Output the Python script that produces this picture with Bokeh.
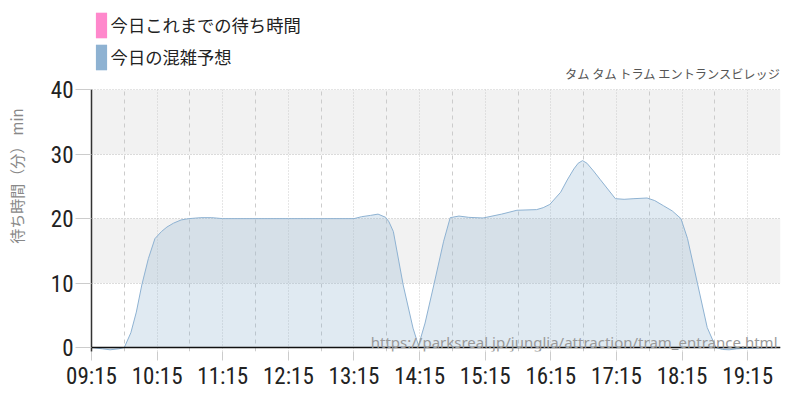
from bokeh.plotting import figure
from bokeh.models import (FixedTicker, Span, Label, Legend, LegendItem, ColumnDataSource,
                          Range1d, CustomJSTickFormatter, BoxAnnotation)
from bokeh.embed import file_html
from bokeh.resources import INLINE

# ---- data ----
forecast_times = ["09:15", "09:25", "09:32", "09:40", "09:45", "09:51", "09:56", "10:01", "10:07",
                  "10:13", "10:19", "10:24", "10:30", "10:37", "10:44", "10:55", "11:05", "11:15",
                  "12:15", "13:15", "13:22", "13:30", "13:37", "13:44", "13:47", "13:51", "14:00",
                  "14:09", "14:14", "14:20", "14:28", "14:37", "14:43", "14:51", "15:00", "15:13",
                  "15:30", "15:44", "16:02", "16:08", "16:14", "16:24", "16:30", "16:36", "16:40",
                  "16:44", "16:48", "16:54", "17:00", "17:07", "17:14", "17:22", "17:31", "17:43",
                  "17:50", "17:58", "18:06", "18:14", "18:20", "18:29", "18:38", "18:46", "18:52",
                  "18:58", "19:05", "19:15", "19:30", "19:45"]
forecast_waits = [0.0, -0.2, -0.35, -0.2, 0.0, 2.3, 5.5, 9.7, 13.8,
                  16.9, 18.0, 18.7, 19.3, 19.8, 20.0, 20.15, 20.15, 20.0,
                  20.0, 20.0, 20.3, 20.5, 20.7, 20.2, 19.5, 18.0, 9.7,
                  3.0, 0.3, 3.8, 9.7, 16.5, 20.15, 20.4, 20.2, 20.1,
                  20.7, 21.3, 21.4, 21.7, 22.2, 24.1, 26.0, 27.7, 28.6,
                  29.0, 28.6, 27.4, 26.1, 24.6, 23.1, 23.0, 23.1, 23.2,
                  22.8, 22.0, 21.2, 20.0, 16.9, 10.0, 3.1, 0.0, -0.3,
                  -0.35, -0.2, -0.1, -0.05, 0.0]
actual_times = []
actual_waits = []

x_tick_labels = ["09:15", "10:15", "11:15", "12:15", "13:15", "14:15",
                 "15:15", "16:15", "17:15", "18:15", "19:15"]
x_minor_labels = ["09:45", "10:45", "11:45", "12:45", "13:45", "14:45",
                  "15:45", "16:45", "17:45", "18:45", "19:45"]
y_ticks = [0, 10, 20, 30, 40]
shaded_bands = [(10, 20), (30, 40)]
x_start, x_end = "09:15", "19:45"
series_names = ["今日これまでの待ち時間", "今日の混雑予想"]
series_colors = ["#ff88cc", "#8eb2d2"]
chart_title = "タム タム トラム エントランスビレッジ"
y_label = "待ち時間（分） min"
source_url = "https://parksreal.jp/junglia/attraction/tram_entrance.html"


def to_min(s):
    h, m = s.split(":")
    return int(h) * 60 + int(m)


NUM_FONT = "'Liberation Sans Narrow', 'Roboto Condensed', 'DejaVu Sans Condensed', sans-serif"
JP_FONT = "Noto Sans CJK JP"

# ---- layout constants (pixels) ----
W, H = 784, 392
FRAME_LEFT, FRAME_RIGHT_PAD = 91, 4
FRAME_BOTTOM = 354           # pixel row of the frame's lower edge
ZERO_PX = 350                # pixel row of y = 0
PX_PER_UNIT = 6.5
y_top_value = max(y_ticks)
y_lo = -(FRAME_BOTTOM - ZERO_PX) / PX_PER_UNIT
y_hi = y_lo + FRAME_BOTTOM / PX_PER_UNIT   # frame reaches the top of the canvas

p = figure(width=W, height=H, output_backend="svg", toolbar_location=None,
           x_range=Range1d(to_min(x_start), to_min(x_end)), y_range=Range1d(y_lo, y_hi),
           min_border_left=FRAME_LEFT, min_border_right=FRAME_RIGHT_PAD,
           min_border_top=0, min_border_bottom=H - FRAME_BOTTOM)
p.outline_line_color = None
p.background_fill_color = "white"
p.border_fill_color = "white"

fsrc = ColumnDataSource(dict(t=[to_min(s) for s in forecast_times], w=forecast_waits))
asrc = ColumnDataSource(dict(t=[to_min(s) for s in actual_times], w=actual_waits))

# forecast area + line
p.varea(x="t", y1=0, y2="w", source=fsrc, fill_color=series_colors[1], fill_alpha=0.28)
p.line(x="t", y="w", source=fsrc, line_color=series_colors[1], line_width=1)
# today's actual (no data yet)
p.varea(x="t", y1=0, y2="w", source=asrc, fill_color=series_colors[0], fill_alpha=1)
p.line(x="t", y="w", source=asrc, line_color=series_colors[0], line_width=2)

# opaque legend swatches (hidden renderers, only used by the legend)
sw_a = p.varea(x="t", y1=0, y2="w", source=fsrc, fill_color=series_colors[0], fill_alpha=1,
               visible=False)
sw_f = p.varea(x="t", y1=0, y2="w", source=fsrc, fill_color=series_colors[1], fill_alpha=1,
               visible=False)

# axes
fmt = CustomJSTickFormatter(code="""
const h = Math.floor(tick / 60), m = Math.round(tick % 60);
return String(h).padStart(2, '0') + ':' + String(m).padStart(2, '0');
""")
p.xaxis.ticker = FixedTicker(ticks=[to_min(s) for s in x_tick_labels],
                             minor_ticks=[to_min(s) for s in x_minor_labels])
p.xaxis.formatter = fmt
p.xaxis.axis_line_color = None
p.xaxis.major_tick_out = 9
p.xaxis.major_tick_in = 0
p.xaxis.minor_tick_out = 0
p.xaxis.minor_tick_in = 0
p.xaxis.major_tick_line_color = "#cccccc"
p.xaxis.major_label_text_font = NUM_FONT
p.xaxis.major_label_text_font_size = "23px"
p.xaxis.major_label_text_color = "#222222"
p.xaxis.major_label_standoff = 2

p.yaxis.ticker = FixedTicker(ticks=y_ticks, minor_ticks=[])
p.yaxis.bounds = (y_lo, y_top_value)
p.yaxis.axis_line_color = "#333333"
p.yaxis.axis_line_width = 1.5
p.yaxis.major_tick_out = 16
p.yaxis.major_tick_in = 0
p.yaxis.minor_tick_out = 0
p.yaxis.major_tick_line_color = "#cccccc"
p.yaxis.major_label_text_font = NUM_FONT
p.yaxis.major_label_text_font_size = "23px"
p.yaxis.major_label_text_color = "#222222"
p.yaxis.major_label_standoff = 2
p.yaxis.axis_label = y_label
p.yaxis.axis_label_text_font = JP_FONT
p.yaxis.axis_label_text_font_size = "15px"
p.yaxis.axis_label_text_font_style = "normal"
p.yaxis.axis_label_text_color = "#888888"
p.yaxis.axis_label_standoff = 21

# grids
p.xgrid.ticker = p.xaxis.ticker
p.xgrid.grid_line_color = "#cccccc"
p.xgrid.grid_line_dash = "1 2"
p.xgrid.minor_grid_line_color = "#cccccc"
p.xgrid.minor_grid_line_dash = "4 4"
p.ygrid.ticker = FixedTicker(ticks=y_ticks)
p.ygrid.grid_line_color = "#bbbbbb"
p.ygrid.grid_line_dash = "1 2"

# shaded bands beneath the grid lines, white mask above the top tick on top of them
bands = [BoxAnnotation(bottom=b0, top=b1, fill_color="#f2f2f2", fill_alpha=1,
                       line_color=None, level="underlay") for b0, b1 in shaded_bands]
mask = BoxAnnotation(bottom=y_top_value + 0.6 / PX_PER_UNIT, fill_color="white", fill_alpha=1,
                     line_color=None, level="underlay")
p.center = bands + list(p.center) + [mask]

# zero baseline
p.add_layout(Span(location=0, dimension="width", line_color="#111111", line_width=1.5))

# title, right-aligned just above the plotting area
p.add_layout(Label(x=to_min(x_end), y=y_top_value, y_offset=16, text=chart_title,
                   text_align="right", text_baseline="middle",
                   text_font=JP_FONT, text_font_size="12.2px", text_color="#555555"))

# source url watermark
p.add_layout(Label(x=to_min(x_end), x_offset=-3, y=0, y_offset=6, text=source_url,
                   text_align="right", text_baseline="alphabetic",
                   text_font="Noto Sans", text_font_size="15px", text_color="#999999"))

# legend (top-left, above the plotting area)
legend = Legend(items=[LegendItem(label=series_names[0], renderers=[sw_a]),
                       LegendItem(label=series_names[1], renderers=[sw_f])],
                location=(2.6, 278.2), orientation="vertical",
                glyph_width=14, glyph_height=32, label_height=32, spacing=0,
                label_standoff=3, padding=0, margin=0,
                border_line_alpha=0, background_fill_alpha=0,
                label_text_font=JP_FONT, label_text_font_size="17.3px",
                label_text_color="#222222")
p.add_layout(legend, "center")

open("out.html", "w").write(file_html(p, INLINE))
